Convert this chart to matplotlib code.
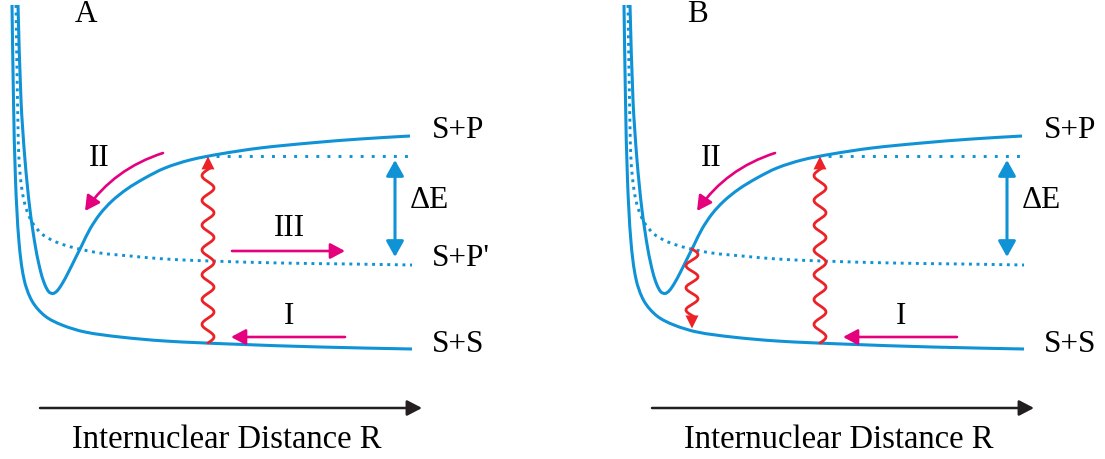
import numpy as np
import matplotlib
matplotlib.use("Agg")
import matplotlib.pyplot as plt
from matplotlib.patches import FancyArrowPatch, Polygon, PathPatch
from matplotlib.path import Path

# ---- potential curves (x: internuclear distance, y: energy, screen-down units) ----
ss_x = [12, 13.5, 15.5, 19, 24, 32, 45, 62, 85, 120, 165, 230, 320, 412]
ss_y = [5, 100, 180, 242, 279, 301, 316, 325, 332, 337, 341, 344, 347, 349]

sp_x = [18, 21, 25, 30, 36, 41, 45, 49, 53, 57, 62, 68, 75, 82, 90, 100, 112, 127,
        145, 165, 190, 220, 260, 310, 360, 410]
sp_y = [5, 100, 160, 210, 250, 273, 285, 292, 293.5, 291, 284, 273, 259, 245, 229, 214,
        201, 189, 178, 168, 160, 154, 148, 143, 139, 136]

spp_x = [16, 17.5, 19, 22, 26, 32, 42, 56, 75, 100, 130, 165, 210, 280, 350, 412]
spp_y = [5, 100, 160, 190, 208, 222, 234, 242, 248, 253, 256, 259, 261, 263, 264, 265]

# asymptotic S+P energy level (dotted reference line)
sp_level = 156
sp_level_x = [205, 412]

# radiative transition positions
x_excite = 208
x_emit = 80

# ---- labels ----
panel_labels = ["A", "B"]
asym_labels = ["S+P", "S+P'", "S+S"]
asym_label_y = [131, 258, 344]
path_labels = ["I", "II", "III"]
delta_label = "\u0394E"
axis_label = "Internuclear Distance R"

BLUE = "#0f93d6"
MAGENTA = "#e5007e"
RED = "#ec2227"
DARK = "#231f20"
SERIF = ["Liberation Serif", "DejaVu Serif"]
FS = 22.5
FS_AXIS = 23.5

fig = plt.figure(figsize=(11.05, 4.59), dpi=100)
ax_a = fig.add_axes([0, 0, 560 / 1105, 1])
ax_b = fig.add_axes([612 / 1105, 0, 493 / 1105, 1])
ax_a.set_xlim(0, 560)
ax_b.set_xlim(0, 493)
for ax in (ax_a, ax_b):
    ax.set_ylim(459, 0)
    ax.axis("off")


def smooth_path(xs, ys):
    """Cubic Bezier path passing through the given nodes (chord-length tangents)."""
    p = np.column_stack([xs, ys]).astype(float)
    n = len(p)
    d = np.linalg.norm(np.diff(p, axis=0), axis=1)
    tang = np.zeros_like(p)
    tang[0] = (p[1] - p[0]) / d[0]
    tang[-1] = (p[-1] - p[-2]) / d[-1]
    for i in range(1, n - 1):
        tang[i] = (p[i + 1] - p[i - 1]) / (d[i - 1] + d[i])
    verts = [p[0]]
    codes = [Path.MOVETO]
    for i in range(n - 1):
        verts += [p[i] + tang[i] * d[i] / 3, p[i + 1] - tang[i + 1] * d[i] / 3, p[i + 1]]
        codes += [Path.CURVE4] * 3
    return Path(verts, codes)


def draw_curve(ax, xs, ys, lw, ls="solid", z=3):
    ax.add_patch(PathPatch(smooth_path(xs, ys), fill=False, edgecolor=BLUE, lw=lw,
                           linestyle=ls, joinstyle="round", capstyle="butt", zorder=z))


def wavy_arrow(ax, x, y_start, y_tip, period=24, amp=6, head_len=13, head_w=13):
    d = np.sign(y_tip - y_start)
    y_base = y_tip - d * head_len
    span = abs(y_base - y_start)
    n_half = max(1, round(span / (period / 2)))
    per = 2 * span / n_half
    ys = np.linspace(y_start, y_base + d * 1.5, 600)
    xs = x + amp * np.sin(2 * np.pi * np.abs(ys - y_start) / per)
    ax.plot(xs, ys, color=RED, lw=2.0, solid_capstyle="round", zorder=4)
    ax.add_patch(Polygon([(x - head_w / 2, y_base), (x + head_w / 2, y_base), (x, y_tip)],
                         closed=True, color=RED, lw=0, zorder=5))


def arrow(ax, p0, p1, color, lw, style, rad=0.0, ms=10):
    a = FancyArrowPatch(p0, p1, arrowstyle=style, color=color, lw=lw,
                        mutation_scale=ms, shrinkA=0, shrinkB=0,
                        connectionstyle=f"arc3,rad={rad}", zorder=4)
    ax.add_patch(a)


MAG_STYLE = "-|>,head_length=0.88,head_width=0.47"

for i, ax in enumerate((ax_a, ax_b)):
    # curves
    draw_curve(ax, ss_x, ss_y, 2.2)
    draw_curve(ax, sp_x, sp_y, 2.2)
    draw_curve(ax, spp_x, spp_y, 2.1, ls=(0, (1, 1.6)), z=2)
    ax.plot(sp_level_x, [sp_level, sp_level], color=BLUE, lw=2.1,
            linestyle=(0, (1, 2.8)), zorder=2)

    # excitation from S+S to S+P
    y_low = np.interp(x_excite, ss_x, ss_y)
    y_up = np.interp(x_excite, sp_x, sp_y)
    wavy_arrow(ax, x_excite, y_low, y_up)

    # Delta E double arrow
    arrow(ax, (395, 160), (395, 257), BLUE, 2.2,
          "<|-|>,head_length=0.95,head_width=0.53")
    ax.text(410, 200, delta_label, fontsize=FS, family=SERIF, va="center", ha="left")

    # collision pathways
    arrow(ax, (345, 337), (231, 337), MAGENTA, 1.9, MAG_STYLE)
    ax.text(289, 316, path_labels[0], fontsize=FS, family=SERIF, va="center", ha="center")
    arrow(ax, (163, 153), (85, 211), MAGENTA, 1.9, MAG_STYLE, rad=0.17)
    ax.text(99, 159, path_labels[1], fontsize=FS, family=SERIF, va="center", ha="center")

    # asymptote labels
    ax.text(432, asym_label_y[0], asym_labels[0], fontsize=FS, family=SERIF, va="center")
    ax.text(432, asym_label_y[2], asym_labels[2], fontsize=FS, family=SERIF, va="center")

    # internuclear distance axis
    arrow(ax, (40, 408), (422, 408), DARK, 1.8,
          "-|>,head_length=0.9,head_width=0.47")
    ax.text(227, 440, axis_label, fontsize=FS_AXIS, family=SERIF, va="center", ha="center")

    ax.text(86, 14, panel_labels[i], fontsize=FS, family=SERIF, va="center", ha="center")

# panel A: fine-structure changing path III and the S+P' asymptote
arrow(ax_a, (232, 251), (345, 251), MAGENTA, 1.9, MAG_STYLE)
ax_a.text(289, 228, path_labels[2], fontsize=FS, family=SERIF, va="center", ha="center")
ax_a.text(432, asym_label_y[1], asym_labels[1], fontsize=FS, family=SERIF, va="center")

# panel B: emission at the curve crossing down to S+S
y_cross = np.interp(x_emit, sp_x, sp_y)
y_ground = np.interp(x_emit, ss_x, ss_y)
wavy_arrow(ax_b, x_emit, y_cross, y_ground - 2, period=23, amp=6)

fig.savefig("out.png", dpi=100)
